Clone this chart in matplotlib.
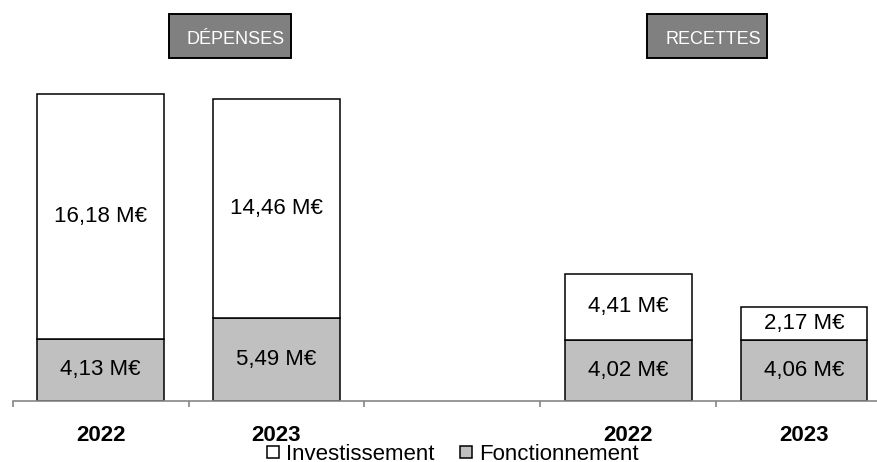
import numpy as np
import matplotlib
matplotlib.use("Agg")
import matplotlib.pyplot as plt
from matplotlib.lines import Line2D
from matplotlib.patches import Rectangle

plt.rcParams['font.family'] = ['Liberation Sans', 'DejaVu Sans']

# data (millions d'euros)
categories = ['2022', '2023', '', '2022', '2023']
fonctionnement = [4.13, 5.49, 0, 4.02, 4.06]
investissement = [16.18, 14.46, 0, 4.41, 2.17]
has_bar = [True, True, False, True, True]

col_fonct = '#c0c0c0'
col_invest = '#ffffff'

fig = plt.figure(figsize=(8.77, 4.62), dpi=100)
ax = fig.add_axes([12.7 / 877, 61 / 462, 879.3 / 877, 401 / 462])

x = np.arange(len(categories))
for i in x:
    if not has_bar[i]:
        continue
    ax.bar(i, fonctionnement[i], width=0.72, color=col_fonct, edgecolor='black', linewidth=1.1)
    ax.bar(i, investissement[i], bottom=fonctionnement[i], width=0.72,
           color=col_invest, edgecolor='black', linewidth=1.1)
    ax.text(i, fonctionnement[i] / 2, f"{fonctionnement[i]:.2f} M€".replace('.', ','),
            ha='center', va='center', fontsize=16)
    ax.text(i, fonctionnement[i] + investissement[i] / 2,
            f"{investissement[i]:.2f} M€".replace('.', ','),
            ha='center', va='center', fontsize=16)

ax.set_xlim(-0.5, len(categories) - 0.5)
ax.set_ylim(0, 401 / 15.12)

for s in ['left', 'right', 'top']:
    ax.spines[s].set_visible(False)
ax.spines['bottom'].set_color('#868686')
ax.spines['bottom'].set_linewidth(1.2)
ax.set_yticks([])

ax.set_xticks(x)
ax.set_xticklabels(categories, fontsize=16, fontweight='bold')
ax.tick_params(axis='x', which='major', length=0, pad=17)
ax.set_xticks(np.arange(-0.5, len(categories)), minor=True)
ax.tick_params(axis='x', which='minor', length=4.5, width=1.2, color='#868686', direction='out')

# en-tetes
for (x0, x1, label) in [(169, 291, 'DÉPENSES'), (647, 767, 'RECETTES')]:
    fig.patches.append(Rectangle((x0 / 877, 1 - 58 / 462), (x1 - x0) / 877, 44 / 462,
                                 transform=fig.transFigure, facecolor='#808080',
                                 edgecolor='black', linewidth=1.4))
    fig.text((x1 - 6) / 877, 1 - 40 / 462, label, color='white', fontsize=13,
             ha='right', va='center')

handles = [
    Line2D([], [], linestyle='none', marker='s', markersize=9, markerfacecolor=col_invest,
           markeredgecolor='black', markeredgewidth=1.1),
    Line2D([], [], linestyle='none', marker='s', markersize=9, markerfacecolor=col_fonct,
           markeredgecolor='black', markeredgewidth=1.1),
]
fig.legend(handles, ['Investissement', 'Fonctionnement'], loc='center',
           bbox_to_anchor=(452 / 877, 1 - 454 / 462), ncol=2, frameon=False,
           fontsize=16, handlelength=0.7, handletextpad=0.2, columnspacing=1.1,
           borderpad=0)

fig.savefig('out.png', dpi=100)
